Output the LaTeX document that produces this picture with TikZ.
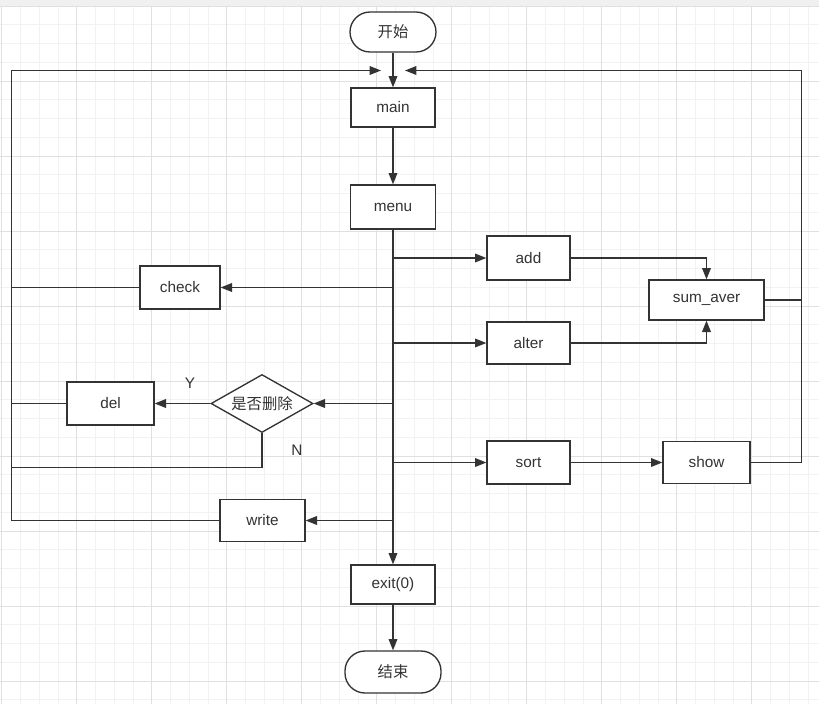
\documentclass[tikz,border=0pt]{standalone}
\usepackage{fontspec}
\setmainfont{Liberation Sans}
\newfontfamily\cjkfont{Noto Sans CJK SC}
\usetikzlibrary{arrows.meta,shapes.geometric,calc}
\definecolor{linedark}{HTML}{333333}
\definecolor{gridminor}{HTML}{F2F2F2}
\definecolor{gridmajor}{HTML}{E0E0E0}
\definecolor{topband}{HTML}{F0F0F0}
\newcommand{\labelsize}{\fontsize{11.5}{13}\selectfont}
\tikzset{
  >={Triangle[length=8.5pt,width=6.5pt]},
  flow/.style={-{Triangle[length=8.5pt,width=6.5pt]}, line width=1pt, draw=linedark},
  wire/.style={line width=1pt, draw=linedark},
  dims/.style 2 args={minimum width=#1, minimum height=#2},
  box/.style={
    draw=linedark,
    line width=1pt,
    fill=white,
    inner sep=0pt,
    text=linedark,
    font=\labelsize
  },
  termbox/.style={box, rounded corners=15pt, font=\labelsize\cjkfont},
  decision/.style={box, diamond, dims={76.5pt}{43.5pt}},
  tinylabel/.style={font=\labelsize, text=linedark}
}

\begin{document}
\begin{tikzpicture}[x=0.75pt, y=-0.75pt]
  \useasboundingbox (0,0) rectangle (819,704);
  % background grid
  \fill[white] (0,0) rectangle (819,704);
  \fill[topband] (0,0) rectangle (819,7);
  \foreach \i in {0,...,43} \draw[gridminor, line width=0.6pt] (1.7+18.75*\i,7) -- (1.7+18.75*\i,704);
  \foreach \i in {0,...,37} \draw[gridminor, line width=0.6pt] (0,6+18.75*\i) -- (819,6+18.75*\i);
  \foreach \i in {0,...,10} \draw[gridmajor, line width=0.6pt] (1.7+75*\i,7) -- (1.7+75*\i,704);
  \foreach \i in {0,...,9} \draw[gridmajor, line width=0.6pt] (0,6+75*\i) -- (819,6+75*\i);

  % main column
  \node[termbox, dims={64.5pt}{30pt}] (start) at (393,32) {开始};
  \node[box, dims={63pt}{29.25pt}] (main) at (393,107.5) {main};
  \node[box, dims={63.75pt}{33pt}] (menu) at (393,207) {menu};
  \node[box, dims={63pt}{29.25pt}] (exit) at (393,584.5) {exit(0)};
  \node[termbox, dims={72pt}{31.5pt}] (stop) at (393,672) {结束};

  % right branch
  \node[box, dims={62.25pt}{33pt}] (add) at (528.5,258) {add};
  \node[box, dims={62.25pt}{31.5pt}] (alter) at (528.5,343) {alter};
  \node[box, dims={86.25pt}{30pt}] (sumaver) at (706.5,300) {sum\_aver};
  \node[box, dims={62.25pt}{32.25pt}] (sort) at (528.5,462.5) {sort};
  \node[box, dims={65.25pt}{31.5pt}] (show) at (706.5,462.5) {show};

  % left branch
  \node[box, dims={60pt}{32.25pt}] (check) at (180,287.5) {check};
  \node[decision, label={[font=\labelsize\cjkfont, text=linedark]center:是否删除}] (ask) at (262,403.5) {};
  \node[box, dims={65.25pt}{32.25pt}] (del) at (110.5,403.5) {del};
  \node[box, dims={63.75pt}{31.5pt}] (write) at (262.5,520.5) {write};
  \node[tinylabel] (yes) at (190,383) {Y};
  \node[tinylabel] (no) at (297,450) {N};

  % loop points
  \coordinate (ltop) at (11.5,70.5);
  \coordinate (rtop) at (801.5,70.5);
  \coordinate (inL) at (381,70.5);
  \coordinate (inR) at (405,70.5);
  \coordinate (nturn) at (262,467.5);

  \draw[flow] (start) -- (main);
  \draw[flow] (main) -- (menu);
  \draw[flow] (menu) -- (exit);
  \draw[flow] (exit) -- (stop);

  \draw[flow] (menu.south) |- (add);
  \draw[flow] (menu.south) |- (alter);
  \draw[flow] (menu.south) |- (sort);
  \draw[flow] (menu.south) |- (check);
  \draw[flow] (menu.south) |- (ask);
  \draw[flow] (menu.south) |- (write);

  \draw[flow] (add) -| (sumaver);
  \draw[flow] (alter) -| (sumaver);
  \draw[flow] (sort) -- (show);
  \draw[flow] (ask) -- (del);

  \draw[flow] (show) -| (rtop) -- (inR);
  \draw[wire] (sumaver) -- (sumaver -| rtop);
  \draw[flow] (write) -| (ltop) -- (inL);
  \draw[wire] (check) -- (check -| ltop);
  \draw[wire] (del) -- (del -| ltop);
  \draw[wire] (ask.south) -- (nturn) -- (nturn -| ltop);
\end{tikzpicture}
\end{document}
